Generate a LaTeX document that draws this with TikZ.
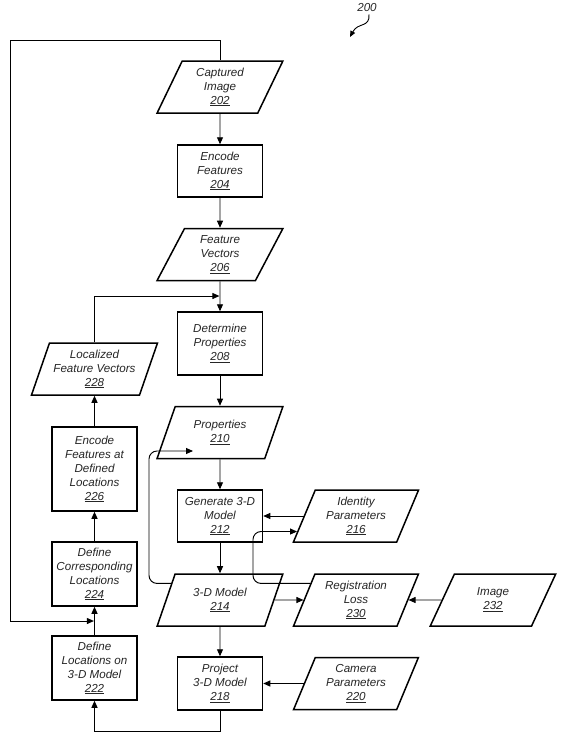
\documentclass[tikz,border=0pt]{standalone}
\usepackage{fontspec}
\setmainfont{Liberation Sans}
\usetikzlibrary{shapes.geometric,arrows.meta,calc}
\begin{document}
\begin{tikzpicture}[x=1pt,y=-1pt,
  txt/.style={align=center,text=black!85,font=\itshape\fontsize{11.6}{14}\selectfont,inner sep=2pt},
  boxnode/.style={txt,draw,line width=1.5pt,fill=white,minimum width=85pt},
  paranode/.style={txt,draw,line width=1.5pt,fill=white,trapezium,trapezium left angle=68,trapezium right angle=112,trapezium stretches=true,minimum width=126pt,minimum height=52pt},
  conn/.style={line width=0.95pt,-{Triangle[length=7pt,width=6pt]}},
  plainline/.style={line width=0.95pt}]
\useasboundingbox (0,0) rectangle (562,736);
% main column
\node[paranode] (n202) at (220,87) {Captured\\Image\\\underline{202}};
\node[boxnode,minimum height=52pt] (n204) at (220,171) {Encode\\Features\\\underline{204}};
\node[paranode] (n206) at (220,254.5) {Feature\\Vectors\\\underline{206}};
\node[boxnode,minimum height=63pt] (n208) at (220,343.5) {Determine\\Properties\\\underline{208}};
\node[paranode] (n210) at (220,432.5) {Properties\\\underline{210}};
\node[boxnode,minimum height=52pt] (n212) at (220,516) {Generate 3-D\\Model\\\underline{212}};
\node[paranode] (n214) at (220,600) {3-D Model\\\underline{214}};
\node[boxnode,minimum height=53pt] (n218) at (220,683.5) {Project\\3-D Model\\\underline{218}};
% right column
\node[paranode] (n216) at (356,516) {Identity\\Parameters\\\underline{216}};
\node[paranode] (n230) at (356,600) {Registration\\Loss\\\underline{230}};
\node[paranode] (n220) at (356,683.5) {Camera\\Parameters\\\underline{220}};
\node[paranode] (n232) at (493,600) {Image\\\underline{232}};
% left column
\node[paranode] (n228) at (94.5,369) {Localized\\Feature Vectors\\\underline{228}};
\node[boxnode,minimum height=84pt] (n226) at (94.5,469) {Encode\\Features at\\Defined\\Locations\\\underline{226}};
\node[boxnode,minimum height=64pt] (n224) at (94.5,574) {Define\\Corresponding\\Locations\\\underline{224}};
\node[boxnode,minimum height=64pt] (n222) at (94.5,668) {Define\\Locations on\\3-D Model\\\underline{222}};
% figure label
\node[txt] (n200) at (367,8) {200};
% helper coordinates
\coordinate (ytop) at (0,40);
\coordinate (xleft) at (10,0);
\coordinate (yfb) at (0,621);
\coordinate (ybot) at (0,731);
\coordinate (yj) at (0,296);
\coordinate (xB) at (149,0);
\coordinate (xA) at (253,0);
\coordinate (tipB) at (193,451);
\coordinate (t200) at (350,37);
\coordinate (r1) at ($(n230.top left corner)!0.19!(n230.bottom left corner)$);
\coordinate (l214) at ($(n214.top left corner)!0.19!(n214.bottom left corner)$);
\coordinate (t216) at ($(n216.top left corner)!0.79!(n216.bottom left corner)$);
% connectors
\draw[conn] (n202) -- (n204);
\draw[conn] (n204) -- (n206);
\draw[conn] (n206) -- (n208);
\draw[conn] (n208) -- (n210);
\draw[conn] (n210) -- (n212);
\draw[conn] (n212) -- (n214);
\draw[conn] (n214) -- (n218);
\draw[conn] (n216.west) -- (n212.east |- n216.west);
\draw[conn] (n220.west) -- (n218.east |- n220.west);
\draw[conn] (n214.east) -- (n230.west);
\draw[conn] (n232.west) -- (n230.east);
\draw[conn] (n222) -- (n224);
\draw[conn] (n224) -- (n226);
\draw[conn] (n226) -- (n228);
\draw[conn,shorten >=0.6pt] (n228.north) |- (n208.north |- yj);
\draw[conn,shorten >=0.6pt] (n202.north) |- (xleft |- ytop) |- (n224.south |- yfb);
\draw[conn] (n218.south) |- (n222.south |- ybot) -- (n222.south);
\draw[conn,rounded corners=8pt] (l214) -| (xB |- tipB) -- (tipB);
\draw[conn,rounded corners=8pt] (r1) -| (xA |- t216) -- (t216);
\draw[line width=0.9pt,-{Triangle[length=6pt,width=5pt]}] ([xshift=2pt]n200.south) .. controls (370,28) and (358,22) .. (t200);
\end{tikzpicture}
\end{document}
